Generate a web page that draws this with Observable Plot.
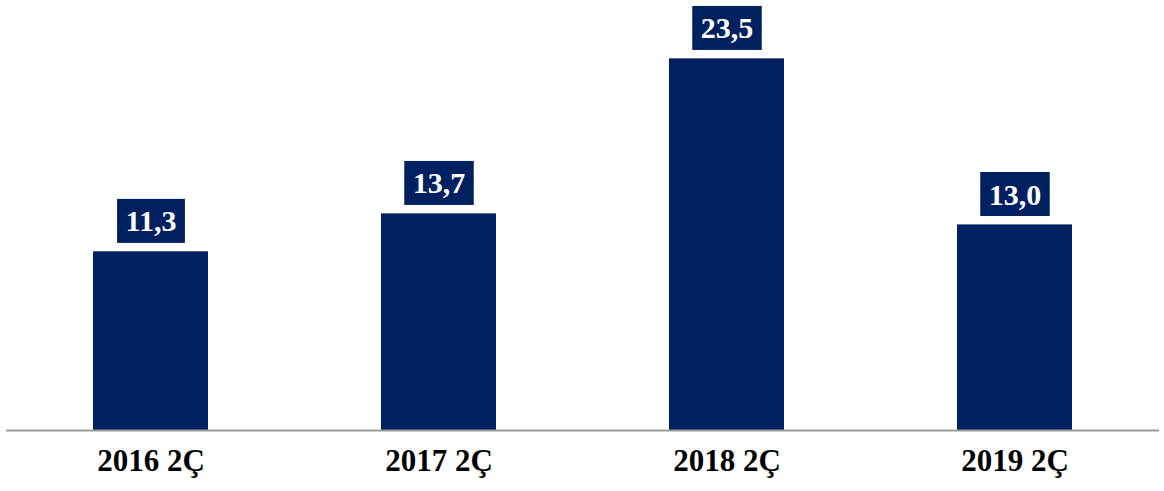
<!DOCTYPE html>
<html>
<head>
<meta charset="utf-8">
<script src="https://cdn.jsdelivr.net/npm/d3@7"></script>
<script src="https://cdn.jsdelivr.net/npm/@observablehq/plot@0.6"></script>
<style>
  html, body { margin: 0; padding: 0; background: #fff; }
  svg { display: block; }
  svg text { font-family: "Liberation Serif", "Times New Roman", serif !important; }
</style>
</head>
<body>
<div id="chart"></div>
<script>
const categories = ["2016 2Ç", "2017 2Ç", "2018 2Ç", "2019 2Ç"];
const values = [11.3, 13.7, 23.5, 13.0];
const labels = ["11,3", "13,7", "23,5", "13,0"];

const data = categories.map((c, i) => ({cat: c, value: values[i], label: labels[i]}));
const navy = "#002060";
const font = "'Liberation Serif', 'Times New Roman', serif";

const chart = Plot.plot({
  width: 1164,
  height: 491,
  marginLeft: 6,
  marginRight: 5,
  marginTop: 3,
  marginBottom: 61,
  style: {fontFamily: font, background: "#fff"},
  x: {domain: categories, paddingInner: 0.6, paddingOuter: 0.3},
  y: {domain: [0, 27], axis: null},
  marks: [
    Plot.barY(data, {x: "cat", y: "value", fill: navy}),
    Plot.ruleY([0], {stroke: "#9a9a9a", strokeWidth: 2}),
    Plot.text(data, {x: "cat", y: "value", text: "label", dy: -30, fill: "white", fontFamily: font,
      fontSize: 30, fontWeight: "bold", lineAnchor: "middle", textAnchor: "middle", className: "vlabel"}),
    Plot.axisX({tickSize: 0, tickPadding: 0, dy: 31, lineAnchor: "middle", fontSize: 31, fontFamily: font,
      fontWeight: "bold", fill: "black", label: null})
  ]
});
document.getElementById("chart").appendChild(chart);

// draw boxes behind value labels, sized from rendered text
const g = chart.querySelector("g.vlabel") || [...chart.querySelectorAll("g[aria-label='text']")][0];
if (g) {
  g.querySelectorAll("text").forEach(t => {
    const b = t.getBBox();
    const cx = b.x + b.width / 2, cy = b.y + b.height / 2;
    const w = b.width + 17, h = 44;
    const r = document.createElementNS("http://www.w3.org/2000/svg", "rect");
    r.setAttribute("x", cx - w / 2);
    r.setAttribute("y", cy - h / 2);
    r.setAttribute("width", w);
    r.setAttribute("height", h);
    r.setAttribute("fill", navy);
    if (t.getAttribute("transform")) r.setAttribute("transform", t.getAttribute("transform"));
    g.insertBefore(r, t);
  });
}
</script>
</body>
</html>
